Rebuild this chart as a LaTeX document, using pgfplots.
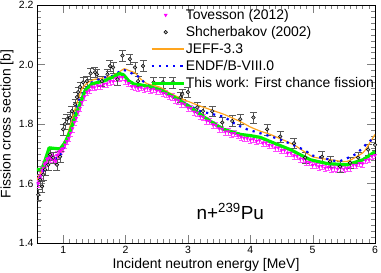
\documentclass[border=0pt]{standalone}
\usepackage{pgfplots}
\pgfplotsset{compat=1.18}
\usepackage{fontspec}
\setmainfont{Liberation Sans}
\definecolor{rorange}{RGB}{255,165,30}
\definecolor{rgreen}{RGB}{0,240,0}
\definecolor{rmag}{RGB}{255,0,255}
\definecolor{rblue}{RGB}{0,0,255}
\pgfplotsset{
  linelegend/.style={legend image code/.code={\draw[##1] (0bp,0bp) -- (32bp,0bp);}},
  marklegend/.style={legend image code/.code={\draw[draw=none,fill=none] (0bp,0bp) -- (32bp,0bp);
     \draw[##1] plot coordinates {(14bp,0bp)};}},
}
\begin{document}
\begin{tikzpicture}
\begin{axis}[name=ax,
  scale only axis, width=338bp, height=238bp,
  xmin=0.58, xmax=6, ymin=1.4, ymax=2.2,
  xtick={1,2,3,4,5,6}, ytick={1.4,1.6,1.8,2.0,2.2},
  minor x tick num=9, minor y tick num=9,
  tick align=inside, major tick length=8bp, minor tick length=4bp,
  yticklabel style={/pgf/number format/.cd,fixed,fixed zerofill,precision=1},
  /pgf/number format/assume math mode=true,
  tick label style={font=\fontsize{10.5}{12}\selectfont},
  xlabel={Incident neutron energy [MeV]},
  ylabel={Fission cross section [b]},
  label style={font=\fontsize{14}{16}\selectfont},
  xlabel style={at={(axis description cs:0.5,0)}, anchor=base, yshift=-25bp},
  ylabel style={at={(axis description cs:0,0.5)}, anchor=south, yshift=20bp},
  axis line style={line width=0.6pt},
  legend style={draw=none, fill=none, at={(rel axis cs:0.334,0.985)}, anchor=north west,
     font=\fontsize{14}{15}\selectfont, row sep=4.5bp, inner sep=0pt, column sep=0pt,
     nodes={inner sep=0.5bp}},
  legend cell align=left,
  clip=true,
]
\addlegendimage{only marks, mark=triangle*, mark size=1.8bp, color=rmag, mark options={rotate=180}, marklegend}
\addlegendentry{Tovesson (2012)}
\addlegendimage{only marks, mark=*, mark size=1.8bp, color=black, mark options={fill=gray!60, line width=0.5pt}, marklegend}
\addlegendentry{Shcherbakov (2002)}
\addlegendimage{color=rorange, line width=1.2pt, linelegend}
\addlegendentry{JEFF-3.3}
\addlegendimage{color=rblue, line width=2.2bp, dash pattern=on 2.2bp off 5bp, linelegend}
\addlegendentry{ENDF/B-VIII.0}
\addlegendimage{color=rgreen, line width=3.2pt, linelegend}
\addlegendentry{This work: First chance fission}
% Tovesson (2012)
\addplot[forget plot, only marks, mark=triangle*, mark size=1.8bp, color=rmag,
  mark options={rotate=180},
  error bars/.cd, y dir=both, y fixed=0.011,
  error bar style={color=rmag!70, line width=0.5pt},
  error mark options={rotate=90, mark size=2.2bp, color=rmag!70}]
 coordinates {
 (0.60,1.600) (0.62,1.618) (0.64,1.628) (0.66,1.645) (0.68,1.652) (0.70,1.665)
 (0.72,1.670) (0.74,1.682) (0.76,1.685) (0.78,1.694) (0.80,1.684) (0.82,1.692)
 (0.84,1.680) (0.86,1.684) (0.88,1.676) (0.90,1.696) (0.92,1.694) (0.94,1.708)
 (0.96,1.710) (0.98,1.716) (1.00,1.718) (1.03,1.730) (1.06,1.742) (1.09,1.752)
 (1.12,1.770) (1.15,1.785) (1.18,1.806) (1.21,1.820) (1.24,1.841) (1.27,1.854)
 (1.30,1.874) (1.34,1.892) (1.38,1.908) (1.42,1.913) (1.46,1.925) (1.50,1.923)
 (1.55,1.929) (1.60,1.928) (1.65,1.934) (1.70,1.935) (1.75,1.943) (1.80,1.944)
 (1.85,1.954) (1.90,1.956) (1.95,1.957) (2.00,1.945) (2.05,1.937) (2.10,1.927)
 (2.15,1.926) (2.20,1.921) (2.25,1.923) (2.30,1.917) (2.35,1.921) (2.40,1.915)
 (2.45,1.918) (2.50,1.912) (2.55,1.911) (2.60,1.904) (2.65,1.902) (2.70,1.893)
 (2.75,1.892) (2.80,1.882) (2.85,1.879) (2.90,1.869) (2.95,1.866) (3.00,1.855)
 (3.05,1.853) (3.10,1.841) (3.15,1.838) (3.20,1.826) (3.25,1.823) (3.30,1.811)
 (3.35,1.809) (3.40,1.798) (3.45,1.796) (3.50,1.785) (3.55,1.783) (3.60,1.774)
 (3.65,1.775) (3.70,1.768) (3.75,1.769) (3.80,1.762) (3.85,1.757) (3.90,1.753)
 (3.95,1.752) (4.00,1.747) (4.05,1.749) (4.10,1.743) (4.15,1.745) (4.20,1.737)
 (4.25,1.737) (4.30,1.729) (4.35,1.728) (4.40,1.720) (4.45,1.720) (4.50,1.712)
 (4.55,1.712) (4.60,1.703) (4.65,1.703) (4.70,1.694) (4.75,1.692) (4.80,1.683)
 (4.85,1.682) (4.90,1.672) (4.95,1.671) (5.00,1.662) (5.05,1.664) (5.10,1.657)
 (5.15,1.659) (5.20,1.652) (5.25,1.655) (5.30,1.650) (5.35,1.653) (5.40,1.649)
 (5.45,1.652) (5.50,1.648) (5.55,1.651) (5.60,1.654) (5.65,1.662) (5.70,1.661)
 (5.75,1.668) (5.80,1.667) (5.85,1.678) (5.90,1.681) (5.95,1.692) (6.00,1.695)
 };
% Shcherbakov (2002)
\addplot[forget plot, only marks, mark=*, mark size=1.8bp, color=black,
  mark options={fill=gray!60, line width=0.5pt},
  error bars/.cd, y dir=both, y fixed=0.018,
  error bar style={color=gray!70!black, line width=0.5pt},
  error mark options={rotate=90, mark size=3.5bp, color=gray!70!black}]
 coordinates {
 (0.60,1.562) (0.63,1.613) (0.66,1.590) (0.68,1.630) (0.71,1.647) (0.76,1.663)
 (0.79,1.697) (0.84,1.687) (0.90,1.663) (0.95,1.690) (1.00,1.782) (1.03,1.800)
 (1.06,1.816) (1.11,1.822) (1.14,1.843) (1.19,1.866) (1.22,1.890) (1.24,1.907)
 (1.27,1.924) (1.32,1.940) (1.38,1.944) (1.44,1.970) (1.51,1.974) (1.54,1.967)
 (1.62,1.944) (1.71,1.967) (1.75,1.995) (1.80,1.990) (1.87,1.950) (1.95,2.030)
 (2.07,2.018) (2.15,1.990) (2.20,1.944) (2.28,1.995) (2.45,1.940) (2.60,1.940)
 (2.76,1.940) (2.88,1.890) (2.91,1.900) (3.00,1.907) (3.15,1.856) (3.24,1.843)
 (3.39,1.843) (3.55,1.805) (3.71,1.810) (3.84,1.816) (4.05,1.822) (4.27,1.782)
 (4.48,1.758) (4.70,1.735) (4.88,1.687) (5.15,1.690) (5.28,1.674) (5.44,1.657)
 (5.60,1.670) (5.73,1.687) (5.89,1.714) (6.00,1.730)
 };
% JEFF-3.3
\addplot[forget plot, color=rorange, line width=1.2pt, smooth, tension=0.3] coordinates {
 (0.58,1.613) (0.65,1.640) (0.72,1.675) (0.78,1.697) (0.85,1.685) (0.92,1.690)
 (1.00,1.720) (1.08,1.772) (1.19,1.850) (1.30,1.918) (1.40,1.940) (1.50,1.950)
 (1.65,1.955) (1.79,1.962) (1.90,1.975) (1.98,1.986) (2.05,1.980) (2.15,1.972)
 (2.25,1.950) (2.35,1.935) (2.55,1.924) (2.70,1.905) (2.92,1.883) (3.20,1.860)
 (3.57,1.833) (3.84,1.808) (4.00,1.790) (4.16,1.776) (4.32,1.765) (4.69,1.731)
 (5.00,1.690) (5.28,1.680) (5.55,1.674) (5.81,1.704) (5.92,1.738) (6.00,1.765)
};
% ENDF/B-VIII.0
\addplot[forget plot, color=rblue, line width=2.2bp, dash pattern=on 2.2bp off 5bp, smooth, tension=0.3] coordinates {
 (0.58,1.596) (0.65,1.630) (0.72,1.665) (0.78,1.690) (0.85,1.687) (0.92,1.685)
 (1.00,1.715) (1.08,1.760) (1.14,1.800) (1.24,1.873) (1.35,1.915) (1.46,1.940)
 (1.64,1.955) (1.80,1.962) (1.95,1.982) (2.05,1.975) (2.20,1.960) (2.30,1.940)
 (2.44,1.920) (2.60,1.912) (2.80,1.885) (3.04,1.860) (3.20,1.843) (3.57,1.824)
 (3.76,1.800) (3.95,1.782) (4.11,1.772) (4.48,1.748) (4.85,1.714) (5.00,1.694)
 (5.20,1.684) (5.40,1.674) (5.50,1.680) (5.70,1.700) (5.89,1.738) (6.00,1.755)
};
% This work
\addplot[forget plot, color=rgreen, line width=3.2pt, line join=round] coordinates {
 (0.58,1.647) (0.66,1.647) (0.775,1.720) (0.95,1.716) (1.03,1.738) (1.11,1.775)
 (1.22,1.840) (1.35,1.912) (1.46,1.935) (1.66,1.945) (1.80,1.958) (1.90,1.970)
 (1.97,1.965) (2.05,1.945) (2.14,1.934) (2.23,1.932) (2.40,1.925) (2.55,1.915)
 (2.76,1.893) (3.04,1.856) (3.31,1.816) (3.57,1.782) (3.84,1.765) (4.00,1.761)
 (4.16,1.755) (4.32,1.741) (4.64,1.714) (4.96,1.680) (5.23,1.667) (5.55,1.663)
 (5.81,1.680) (6.00,1.707)
};
\node[font=\fontsize{19}{21}\selectfont, anchor=base] at (axis cs:3.68,1.48) {n+\textsuperscript{239}Pu};
\end{axis}
\pgfresetboundingbox
\path ([shift={(-37bp,-30bp)}]ax.south west) rectangle ([shift={(6bp,5bp)}]ax.north east);
\end{tikzpicture}
\end{document}
